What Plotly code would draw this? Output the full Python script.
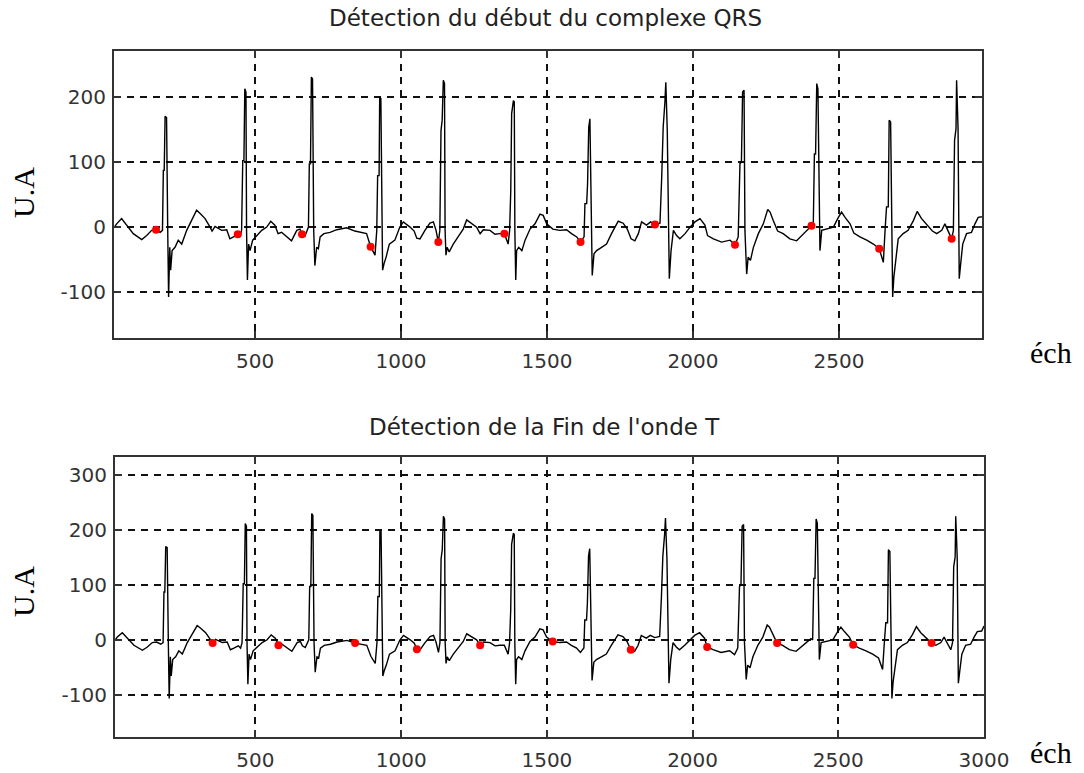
import plotly.graph_objects as go

W, H = 1084, 773

# ECG trace (sample index, amplitude in U.A), shared by both panels
sample_idx = [
    17, 26, 43, 60, 83, 112, 129, 146, 161, 175, 183, 186, 189, 192, 197, 201, 204, 208, 211, 216,
    226, 237, 249, 266, 283, 300, 312, 329, 346, 353, 363, 386, 403, 414, 426, 441, 449, 454, 458, 462,
    465, 469, 471, 474, 478, 483, 492, 506, 523, 540, 554, 568, 579, 591, 608, 625, 643, 654, 661, 671,
    683, 686, 690, 693, 697, 701, 705, 711, 717, 723, 736, 757, 780, 814, 842, 860, 882, 896, 911, 917,
    920, 925, 927, 931, 934, 937, 942, 949, 960, 979, 996, 1008, 1031, 1045, 1054, 1065, 1082, 1099, 1111, 1120,
    1128, 1133, 1137, 1141, 1145, 1149, 1151, 1154, 1158, 1165, 1179, 1201, 1213, 1225, 1242, 1259, 1271, 1282, 1305, 1322,
    1339, 1354, 1367, 1372, 1376, 1379, 1385, 1388, 1390, 1393, 1396, 1403, 1414, 1425, 1442, 1459, 1476, 1487, 1499, 1520,
    1544, 1567, 1584, 1602, 1615, 1627, 1630, 1636, 1639, 1643, 1647, 1651, 1655, 1661, 1670, 1687, 1704, 1721, 1744, 1761,
    1775, 1788, 1801, 1813, 1824, 1841, 1855, 1870, 1887, 1893, 1898, 1904, 1907, 1912, 1915, 1919, 1925, 1933, 1944, 1955,
    1973, 1990, 2007, 2024, 2041, 2050, 2070, 2098, 2127, 2144, 2155, 2161, 2166, 2170, 2175, 2178, 2184, 2189, 2197, 2207,
    2224, 2241, 2256, 2264, 2275, 2290, 2309, 2332, 2355, 2378, 2395, 2406, 2412, 2416, 2420, 2424, 2428, 2432, 2435, 2441,
    2458, 2481, 2498, 2509, 2521, 2538, 2551, 2572, 2595, 2618, 2638, 2652, 2658, 2663, 2669, 2672, 2677, 2680, 2684, 2688,
    2694, 2703, 2720, 2737, 2755, 2768, 2783, 2800, 2820, 2835, 2852, 2863, 2874, 2886, 2892, 2896, 2901, 2903, 2908, 2910,
    2912, 2917, 2924, 2937, 2954, 2966, 2977, 2992, 3000,
]
amplitude = [
    -1, 5, 13, 3, -10, -19, -13, -5, -4, -8, -5, 87, 87, 170, 168, -5, -107, -31, -66, -36,
    -31, -20, -26, -5, 10, 26, 21, 13, 0, -6, 1, -5, -4, -18, -15, -11, -15, -5, 102, 102,
    212, 207, -5, -81, -26, -36, -20, -13, -5, 0, 9, 3, -10, -8, -15, -21, -5, -3, -11, -14,
    0, 97, 97, 230, 227, -5, -59, -31, -33, -15, -10, -8, -4, -1, -6, -8, -10, -30, -43, -5,
    79, 79, 199, 197, -5, -66, -56, -46, -26, -20, 0, 8, 0, -6, -17, -18, -5, 6, 8, -5,
    -23, -5, 148, 164, 225, 220, -5, -43, -31, -38, -26, -10, -3, 11, 5, 0, -10, -4, -5, -11,
    -10, -10, -26, -5, 56, 174, 194, 192, -5, -81, -36, -31, -36, -20, -3, 5, 20, 18, 5, -3,
    -5, -4, -10, -15, -23, -15, 36, 36, 66, 153, 166, 66, -74, -41, -36, -31, -26, -10, 9, 6,
    -3, -18, -21, -10, 8, 3, 8, 4, 6, 77, 153, 192, 222, 148, -5, -79, -36, -5, -13, -18,
    -10, 0, 8, 13, 3, -13, -18, -23, -20, -27, -15, 97, 100, 207, 210, -5, -72, -46, -51, -31,
    -10, 5, 27, 23, 10, -6, -10, -18, -21, -10, -3, 2, 0, 112, 112, 220, 212, -5, -36, -5,
    -3, 0, 15, 23, 15, 5, -9, -15, -20, -26, -33, -54, -5, 31, 31, 164, 161, -5, -107, -77,
    -51, -18, -10, -5, 10, 24, 13, 5, -6, -10, -5, 5, -5, -18, -5, 133, 151, 225, 151, -5,
    -79, -56, -26, -10, -8, 5, 15, 16, 25,
]

# Detected QRS onsets (upper panel)
qrs_idx = [161, 441, 661, 896, 1128, 1354, 1615, 1870, 2144, 2406, 2638, 2886]
qrs_amp = [-4, -11, -11, -30, -23, -10, -23, 4, -27, 2, -33, -18]

# Detected T-wave ends (lower panel)
tend_idx = [353, 579, 842, 1054, 1271, 1520, 1788, 2050, 2290, 2551, 2820]
tend_amp = [-6, -10, -6, -17, -10, -3, -18, -13, -6, -9, -6]

top_xticks = [500, 1000, 1500, 2000, 2500]
bot_xticks = [500, 1000, 1500, 2000, 2500, 3000]
top_yticks = [-100, 0, 100, 200]
bot_yticks = [-100, 0, 100, 200, 300]

titles = ["Détection du début du complexe QRS", "Détection de la Fin de l'onde T"]

fig = go.Figure()

line_style = dict(color="black", width=1.4)
dot_style = dict(color="#ff0000", size=8, symbol="circle")

fig.add_trace(go.Scatter(x=sample_idx, y=amplitude, mode="lines", line=line_style,
                         xaxis="x", yaxis="y", showlegend=False, hoverinfo="skip"))
fig.add_trace(go.Scatter(x=qrs_idx, y=qrs_amp, mode="markers", marker=dot_style,
                         xaxis="x", yaxis="y", showlegend=False))
fig.add_trace(go.Scatter(x=sample_idx, y=amplitude, mode="lines", line=line_style,
                         xaxis="x2", yaxis="y2", showlegend=False, hoverinfo="skip"))
fig.add_trace(go.Scatter(x=tend_idx, y=tend_amp, mode="markers", marker=dot_style,
                         xaxis="x2", yaxis="y2", showlegend=False))

tick_font = dict(family="DejaVu Sans", size=20, color="#333333")
common = dict(
    showgrid=True, gridcolor="#111111", gridwidth=1.8, griddash="7px,6px",
    showline=True, linecolor="#333333", linewidth=2.2, mirror="ticks",
    ticks="inside", ticklen=7, tickcolor="#333333", tickwidth=1.5,
    zeroline=False, tickfont=tick_font, automargin=False,
)


def labels(vals):
    # plain hyphen-minus for negative tick labels
    return [str(v) for v in vals]


fig.update_layout(
    width=W, height=H, autosize=False,
    margin=dict(l=0, r=0, t=0, b=0, pad=0),
    paper_bgcolor="white", plot_bgcolor="white",
    xaxis=dict(domain=[114 / W, 982 / W], range=[17, 2990], tickvals=top_xticks,
               ticktext=labels(top_xticks), anchor="y", ticklabelstandoff=4, **common),
    yaxis=dict(domain=[1 - 338 / H, 1 - 51 / H], range=[-170, 270], tickvals=top_yticks,
               ticktext=labels(top_yticks), anchor="x", ticklabelstandoff=2, **common),
    xaxis2=dict(domain=[115 / W, 984 / W], range=[18, 3000], tickvals=bot_xticks,
                ticktext=labels(bot_xticks), anchor="y2", ticklabelstandoff=4, **common),
    yaxis2=dict(domain=[1 - 737 / H, 1 - 457 / H], range=[-177, 333], tickvals=bot_yticks,
                ticktext=labels(bot_yticks), anchor="x2", ticklabelstandoff=2, **common),
)

title_font = dict(family="DejaVu Sans", size=23, color="#222222")
serif = dict(family="Liberation Serif", size=30, color="black")

annotations = [
    dict(text=titles[0], x=545 / W, y=1 - 18 / H, font=title_font),
    dict(text=titles[1], x=544 / W, y=1 - 427 / H, font=title_font),
    dict(text="U.A", x=23 / W, y=1 - 193 / H, textangle=-90, font=serif),
    dict(text="U.A", x=23 / W, y=1 - 592 / H, textangle=-90, font=serif),
    dict(text="éch", x=1028 / W, y=1 - 352 / H, xanchor="left", font=serif),
    dict(text="éch", x=1028 / W, y=1 - 752 / H, xanchor="left", font=serif),
]
for a in annotations:
    a.setdefault("xanchor", "center")
    a.update(xref="paper", yref="paper", yanchor="middle", showarrow=False)
fig.update_layout(annotations=annotations)

fig.write_html("out.html")
